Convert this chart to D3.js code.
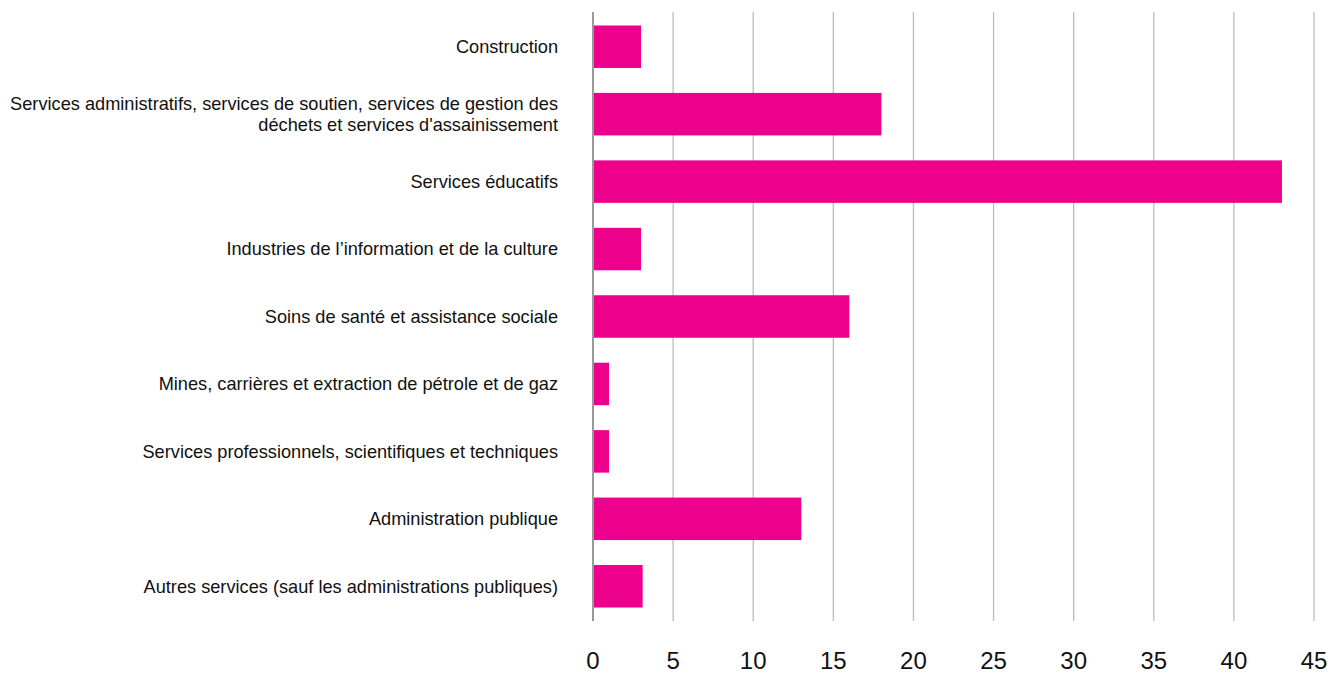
<!DOCTYPE html>
<html><head><meta charset="utf-8">
<script src="https://cdn.jsdelivr.net/npm/d3@7"></script>
<style>body{margin:0;background:#fff;}svg{display:block;}</style>
</head><body>
<svg id="c" width="1330" height="673"></svg>
<script>
const categories = [
  ["Construction"],
  ["Services administratifs, services de soutien, services de gestion des", "déchets et services d'assainissement"],
  ["Services éducatifs"],
  ["Industries de l’information et de la culture"],
  ["Soins de santé et assistance sociale"],
  ["Mines, carrières et extraction de pétrole et de gaz"],
  ["Services professionnels, scientifiques et techniques"],
  ["Administration publique"],
  ["Autres services (sauf les administrations publiques)"]
];
const values = [3, 18, 43, 3, 16, 1, 1, 13, 3.1];
const ticks = [0, 5, 10, 15, 20, 25, 30, 35, 40, 45];

const svg = d3.select("#c");
const x = d3.scaleLinear().domain([0, 45]).range([593, 1314]);
const y = d3.scaleBand().domain(d3.range(categories.length)).range([12, 621]).paddingInner(0.37).paddingOuter(0.2);

const font = "'Liberation Sans', Arial, Helvetica, sans-serif";

// gridlines
svg.append("g").selectAll("line").data(ticks.slice(1)).join("line")
  .attr("x1", d => x(d)).attr("x2", d => x(d))
  .attr("y1", 12).attr("y2", 621)
  .attr("stroke", "#bdbdbd").attr("stroke-width", 1.3);

// bars
svg.append("g").selectAll("rect").data(values).join("rect")
  .attr("x", x(0)).attr("y", (d, i) => y(i))
  .attr("width", d => x(d) - x(0)).attr("height", y.bandwidth())
  .attr("fill", "#ec008c");

// axis line
svg.append("line").attr("x1", x(0)).attr("x2", x(0)).attr("y1", 12).attr("y2", 621)
  .attr("stroke", "#9a9a9a").attr("stroke-width", 2);

// x tick labels
svg.append("g").selectAll("text").data(ticks).join("text")
  .attr("x", d => x(d)).attr("y", 669)
  .attr("text-anchor", "middle").attr("font-family", font).attr("font-size", 24)
  .attr("fill", "#111").text(d => d);

// category labels
const lab = svg.append("g").selectAll("text").data(categories).join("text")
  .attr("text-anchor", "end").attr("font-family", font).attr("font-size", 18.2).attr("fill", "#111")
  .attr("transform", (d, i) => `translate(558,${y(i) + y.bandwidth() / 2})`);
lab.each(function(d) {
  const t = d3.select(this);
  const n = d.length, lh = 21;
  d.forEach((line, k) => {
    t.append("tspan").attr("x", 0).attr("y", (k - (n - 1) / 2) * lh).attr("dy", "0.35em").text(line);
  });
});
</script>
</body></html>
